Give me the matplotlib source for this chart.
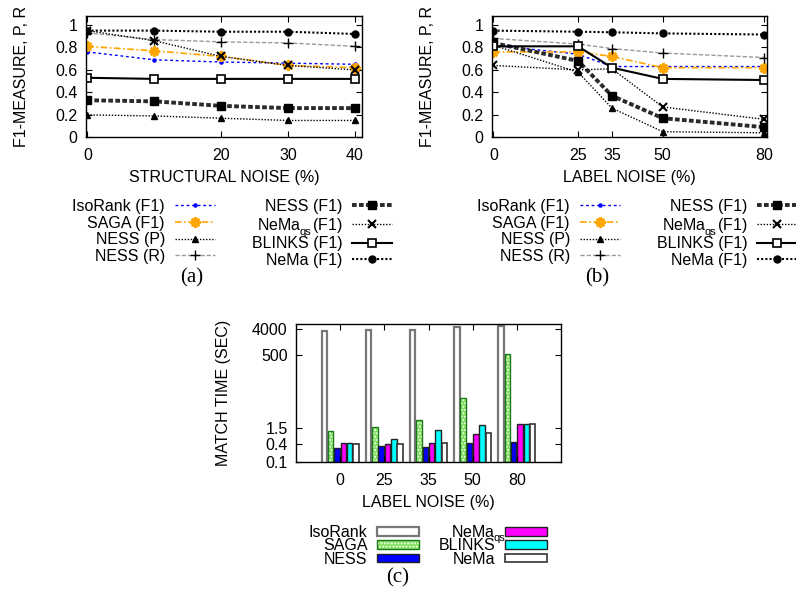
import numpy as np
import matplotlib
matplotlib.use("Agg")
import matplotlib.pyplot as plt
from matplotlib.patches import Patch
from matplotlib.legend_handler import HandlerTuple

plt.rcParams['font.family'] = ['Liberation Sans', 'DejaVu Sans']
plt.rcParams['mathtext.fontset'] = 'custom'
plt.rcParams['mathtext.rm'] = 'Liberation Sans'
plt.rcParams['mathtext.it'] = 'Liberation Sans'

# ---------------- data ----------------
struct_noise = [0, 10, 20, 30, 40]
struct_ticks = [0, 20, 30, 40]
a_isorank = [0.76, 0.69, 0.67, 0.66, 0.65]
a_saga = [0.81, 0.77, 0.72, 0.64, 0.62]
a_ness_p = [0.20, 0.19, 0.17, 0.15, 0.15]
a_ness_r = [0.93, 0.87, 0.85, 0.84, 0.81]
a_ness_f1 = [0.33, 0.32, 0.28, 0.26, 0.26]
a_nemaqs = [0.95, 0.86, 0.72, 0.64, 0.60]
a_blinks = [0.53, 0.52, 0.52, 0.52, 0.52]
a_nema = [0.95, 0.95, 0.94, 0.94, 0.92]

label_noise = [0, 25, 35, 50, 80]
b_isorank = [0.82, 0.74, 0.63, 0.63, 0.63]
b_saga = [0.76, 0.76, 0.72, 0.62, 0.62]
b_ness_p = [0.82, 0.58, 0.26, 0.05, 0.04]
b_ness_r = [0.88, 0.83, 0.79, 0.75, 0.71]
b_ness_f1 = [0.84, 0.68, 0.37, 0.17, 0.09]
b_nemaqs = [0.64, 0.60, 0.61, 0.27, 0.16]
b_blinks = [0.81, 0.81, 0.62, 0.52, 0.51]
b_nema = [0.95, 0.94, 0.935, 0.925, 0.915]

c_groups = ['0', '25', '35', '50', '80']
c_isorank = [3470, 3740, 3950, 4880, 5300]
c_saga = [1.16, 1.64, 2.8, 15.9, 549]
c_ness = [0.31, 0.35, 0.33, 0.46, 0.47]
c_nemaqs = [0.44, 0.40, 0.45, 0.92, 1.99]
c_blinks = [0.44, 0.61, 1.22, 1.88, 2.03]
c_nema = [0.40, 0.41, 0.45, 0.97, 2.03]
c_yticks = [0.1, 0.4, 1.5, 500, 4000]
c_yticklabels = ['0.1', '0.4', '1.5', '500', '4000']

FS = 11.5
SUB = 0.7          # subscript size factor
PX = 100 / 72.0    # px per point

# NeMa_qs labels: "NeMa" + room for "qs" (drawn afterwards so legend rows stay even)
QS_LINE_T = 'NeMa$\\hspace{%.3f}$ (F1)'
QS_BAR_T = 'NeMa$\\hspace{%.3f}$'

styles = [
    ('IsoRank (F1)', dict(color='#0000ff', ls=(0, (2, 2)), lw=1.0, marker='.', ms=4.5)),
    ('SAGA (F1)', dict(color='#ffa500', ls=(0, (4, 1.5, 1, 1.5)), lw=1.2, marker=(8, 2, 0), ms=7.5, mew=1.8)),
    ('NESS (P)', dict(color='black', ls=(0, (1, 1.2)), lw=1.0, marker='^', ms=4)),
    ('NESS (R)', dict(color='#999999', ls=(0, (3, 1.5)), lw=1.0, marker='+', ms=6.5, mec='black', mew=1.0)),
    ('NESS (F1)', dict(color='#2a2a2a', ls=(0, (1.2, 0.6)), lw=2.8, marker='s', ms=5.5, mfc='black', mec='black')),
    (QS_LINE_T % 0.3, dict(color='black', ls=(0, (1, 1.2)), lw=1.0, marker='x', ms=5.5, mew=1.5)),
    ('BLINKS (F1)', dict(color='black', ls='-', lw=1.5, marker='s', ms=5.5, mfc='white', mec='black', mew=1.2)),
    ('NeMa (F1)', dict(color='black', ls=(0, (1, 1)), lw=1.5, marker='o', ms=5)),
]

fig = plt.figure(figsize=(7.96, 6.01), dpi=100)
W, H = 796.0, 601.0

def axes_px(l, t, r, b):
    return fig.add_axes([l / W, 1 - b / H, (r - l) / W, (b - t) / H])

def style_axes(ax):
    ax.tick_params(direction='in', top=True, right=True, length=4, labelsize=FS)
    ax.tick_params(axis='y', pad=6)
    ax.tick_params(axis='x', pad=8)
    for s in ax.spines.values():
        s.set_linewidth(1.0)

def line_panel(ax, xs, series, xticks, xlim, xlabel):
    handles = []
    for (lab, st), ys in zip(styles, series):
        h, = ax.plot(xs, ys, label=lab, **st)
        handles.append(h)
    ax.set_xlim(*xlim)
    ax.set_ylim(0, 1.08)
    ax.set_xticks(xticks)
    ax.set_yticks([0, 0.2, 0.4, 0.6, 0.8, 1])
    ax.set_yticklabels(['0', '0.2', '0.4', '0.6', '0.8', '1'])
    style_axes(ax)
    ax.set_ylabel('F1-MEASURE, P, R', fontsize=FS, labelpad=19)
    ax.set_xlabel(xlabel, fontsize=FS, labelpad=5)
    return handles

ax_a = axes_px(86, 16, 361.7, 137.3)
ha = line_panel(ax_a, struct_noise,
                [a_isorank, a_saga, a_ness_p, a_ness_r, a_ness_f1, a_nemaqs, a_blinks, a_nema],
                struct_ticks, (-0.2, 41), 'STRUCTURAL NOISE (%)')
ax_b = axes_px(491.7, 16, 766.7, 137.3)
hb = line_panel(ax_b, label_noise,
                [b_isorank, b_saga, b_ness_p, b_ness_r, b_ness_f1, b_nemaqs, b_blinks, b_nema],
                label_noise, (-0.5, 80.7), 'LABEL NOISE (%)')

legends = []
for handles, right in ((ha, 392), (hb, 797)):
    legends.append(fig.legend(handles=handles, ncol=2, loc='upper right',
               bbox_to_anchor=(right / W, 1 - 199 / H), frameon=False,
               markerfirst=False, fontsize=FS, handlelength=2.5, handletextpad=0.62,
               columnspacing=2.3, labelspacing=0.1, borderpad=0, borderaxespad=0))

fig.text(192 / W, 1 - 278 / H, '(a)', family='Liberation Serif', fontsize=15, ha='center', va='center')
fig.text(597 / W, 1 - 278 / H, '(b)', family='Liberation Serif', fontsize=15, ha='center', va='center')

# ---------------- bar panel ----------------
ax_c = axes_px(296, 324.3, 561, 461.7)
ax_c.set_yscale('log')
x = np.arange(len(c_groups))
bw, step = 0.125, 0.143
bar_series = [
    ('IsoRank', c_isorank, dict(facecolor='white', edgecolor='#777777', linewidth=1.6)),
    ('SAGA', c_saga, dict(facecolor='#7ee05a', edgecolor='white', linewidth=0, hatch='.....')),
    ('NESS', c_ness, dict(facecolor='#0000ff', edgecolor='#222222', linewidth=1.0)),
    (QS_BAR_T % 0.4, c_nemaqs, dict(facecolor='#ff00ff', edgecolor='#222222', linewidth=1.0)),
    ('BLINKS', c_blinks, dict(facecolor='#00ffff', edgecolor='#222222', linewidth=1.0)),
    ('NeMa', c_nema, dict(facecolor='white', edgecolor='#333333', linewidth=1.2)),
]
bar_handles = []
for i, (lab, vals, st) in enumerate(bar_series):
    pos = x + (i - 2.5) * step
    ax_c.bar(pos, vals, width=bw, **st)
    if lab == 'SAGA':
        ax_c.bar(pos, vals, width=bw, facecolor='none', edgecolor='#1a7a1a', linewidth=1.0)
        bar_handles.append((Patch(facecolor='#7ee05a', edgecolor='white', hatch='.....', linewidth=0),
                            Patch(facecolor='none', edgecolor='#1a7a1a', linewidth=1.0)))
    else:
        bar_handles.append(Patch(**st))
ax_c.set_ylim(0.1, 6000)
ax_c.set_xlim(-1, 5)
ax_c.set_yticks(c_yticks)
ax_c.set_yticklabels(c_yticklabels)
ax_c.yaxis.set_minor_locator(matplotlib.ticker.NullLocator())
ax_c.set_xticks(x)
ax_c.set_xticklabels(c_groups)
style_axes(ax_c)
ax_c.set_ylabel('MATCH TIME (SEC)', fontsize=FS, labelpad=15)
ax_c.set_xlabel('LABEL NOISE (%)', fontsize=FS, labelpad=5)

legends.append(fig.legend(handles=bar_handles, labels=[b[0] for b in bar_series], ncol=2, loc='upper right',
           bbox_to_anchor=(547 / W, 1 - 524 / H), frameon=False, markerfirst=False,
           fontsize=FS, handlelength=2.6, handleheight=0.45, handletextpad=0.62,
           columnspacing=1.25, labelspacing=-0.1, borderpad=0, borderaxespad=0,
           handler_map={tuple: HandlerTuple(ndivide=1, pad=0)}))

fig.text(398 / W, 1 - 578 / H, '(c)', family='Liberation Serif', fontsize=15, ha='center', va='center')

# size the room for "qs" exactly, then draw the subscripts there
fig.canvas.draw()
rend = fig.canvas.get_renderer()
from matplotlib.font_manager import FontProperties
prop = FontProperties(family=['Liberation Sans'], size=FS)
subprop = FontProperties(family=['Liberation Sans'], size=FS * SUB)
w_plain = rend.get_text_width_height_descent('NeMa (F1)', prop, ismath=False)[0]
w_unit = rend.get_text_width_height_descent(QS_LINE_T % 1.0, prop, ismath=True)[0] - w_plain
w_qs = rend.get_text_width_height_descent('qs', subprop, ismath=False)[0]
w_space = rend.get_text_width_height_descent('a a', prop, ismath=False)[0] - \
          rend.get_text_width_height_descent('aa', prop, ismath=False)[0]
gap_line = (w_qs + 1.5 - w_space) / w_unit
gap_bar = (w_qs + 0.5) / w_unit
for leg in legends:
    for t in leg.get_texts():
        s = t.get_text()
        if 'hspace' in s:
            t.set_text((QS_LINE_T % gap_line) if '(F1)' in s else (QS_BAR_T % gap_bar))
fig.canvas.draw()
w_nema = rend.get_text_width_height_descent('NeMa', prop, ismath=False)[0]
lp_d = rend.get_text_width_height_descent('lp', prop, ismath=False)[2]
for leg in legends:
    for t in leg.get_texts():
        if 'hspace' in t.get_text():
            bb = t.get_window_extent(rend)
            base = bb.y0 + lp_d
            fig.text((bb.x0 + w_nema + 0.5) / W, (base - 0.22 * FS * PX) / H, 'qs',
                     fontsize=FS * SUB, ha='left', va='baseline')

fig.savefig('out.png', dpi=100)
